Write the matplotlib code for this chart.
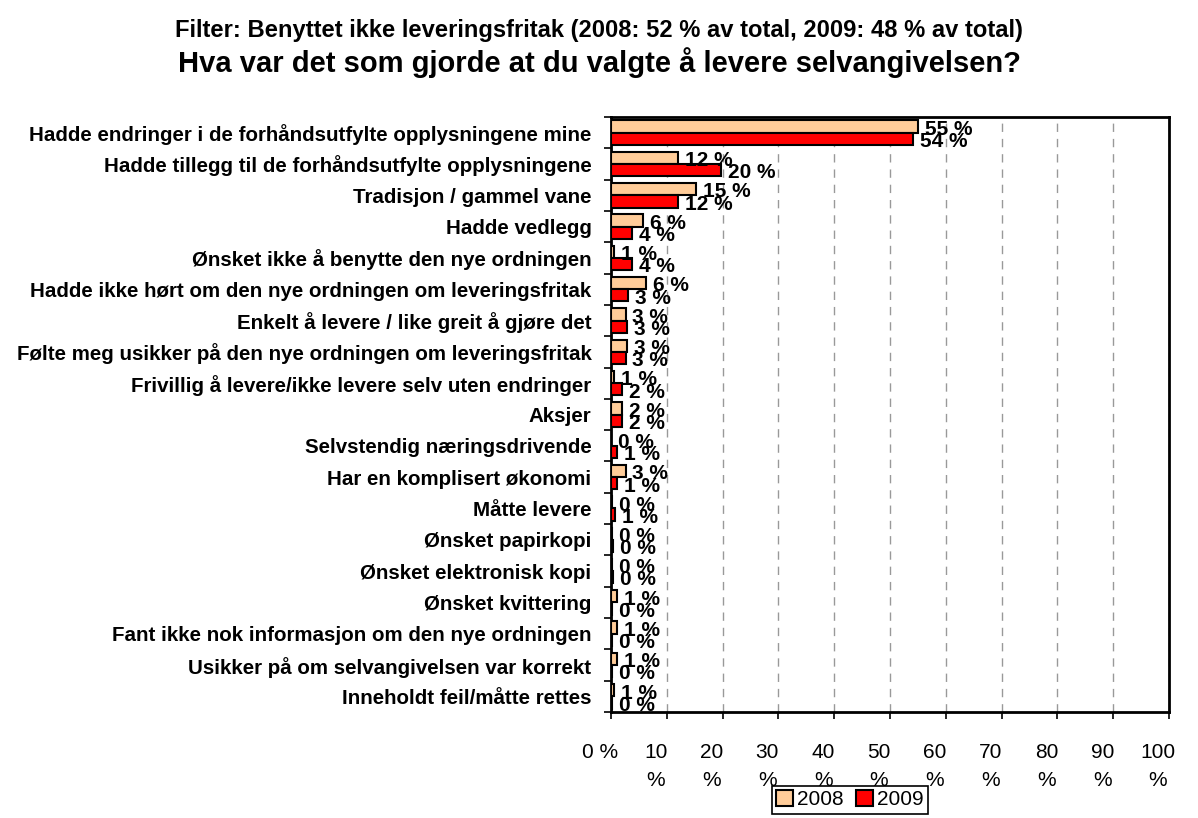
import matplotlib as mpl
import numpy as np
from matplotlib import pyplot as plt
from matplotlib import transforms

plt.rcParams["font.family"] = ["Liberation Sans", "DejaVu Sans"]

categories = [
    "Hadde endringer i de forhåndsutfylte opplysningene mine",
    "Hadde tillegg til de forhåndsutfylte opplysningene",
    "Tradisjon / gammel vane",
    "Hadde vedlegg",
    "Ønsket ikke å benytte den nye ordningen",
    "Hadde ikke hørt om den nye ordningen om leveringsfritak",
    "Enkelt å levere / like greit å gjøre det",
    "Følte meg usikker på den nye ordningen om leveringsfritak",
    "Frivillig å levere/ikke levere selv uten endringer",
    "Aksjer",
    "Selvstendig næringsdrivende",
    "Har en komplisert økonomi",
    "Måtte levere",
    "Ønsket papirkopi",
    "Ønsket elektronisk kopi",
    "Ønsket kvittering",
    "Fant ikke nok informasjon om den nye ordningen",
    "Usikker på om selvangivelsen var korrekt",
    "Inneholdt feil/måtte rettes",
]
values_2008 = [55.0, 12.0, 15.2, 5.8, 0.6, 6.2, 2.6, 2.9, 0.6, 2.0,
               0.0, 2.6, 0.2, 0.1, 0.1, 1.0, 1.1, 1.0, 0.6]
values_2009 = [54.1, 19.8, 12.0, 3.7, 3.7, 3.1, 2.9, 2.6, 2.0, 2.0,
               1.1, 1.0, 0.8, 0.3, 0.3, 0.2, 0.2, 0.1, 0.1]
series_names = ["2008", "2009"]
x_ticks = [0, 10, 20, 30, 40, 50, 60, 70, 80, 90, 100]
x_tick_labels = ["0 %"] + [f"{t}\n%" for t in x_ticks[1:]]

title_1 = "Filter: Benyttet ikke leveringsfritak (2008: 52 % av total, 2009: 48 % av total)"
title_2 = "Hva var det som gjorde at du valgte å levere selvangivelsen?"

colour_2008 = "#FFCC99"
colour_2009 = "#FF0000"

fig = plt.figure(figsize=(11.98, 8.18), dpi=100)
ax = fig.add_axes([611 / 1198, 1 - 712 / 818, (1169 - 611) / 1198, (712 - 117) / 818])

y = np.arange(len(categories))
h = 0.39
ax.barh(y - h / 2, values_2008, height=h, color=colour_2008, edgecolor="black", linewidth=1.5, label=series_names[0], zorder=3)
ax.barh(y + h / 2, values_2009, height=h, color=colour_2009, edgecolor="black", linewidth=1.5, label=series_names[1], zorder=3)

offset = transforms.offset_copy(ax.transData, fig=fig, x=5, y=-2, units="points")
for yi, v in zip(y - h / 2, values_2008):
    ax.text(v, yi, f"{v:.0f} %", transform=offset, ha="left", va="center",
            fontsize=15, fontweight="bold", zorder=5)
for yi, v in zip(y + h / 2, values_2009):
    ax.text(v, yi, f"{v:.0f} %", transform=offset, ha="left", va="center",
            fontsize=15, fontweight="bold", zorder=5)

ax.set_xlim(0, 100)
ax.set_ylim(len(categories) - 0.5, -0.5)

ax.set_yticks(y)
ax.set_yticklabels(categories, fontsize=14.8, fontweight="bold")
ax.tick_params(axis="y", length=0, pad=14)
ax.set_yticks(np.arange(len(categories) + 1) - 0.5, minor=True)
ax.tick_params(axis="y", which="minor", length=5, width=1.2, direction="out")

ax.set_xticks(x_ticks)
ax.set_xticklabels(x_tick_labels, fontsize=15, va="top", linespacing=1.62)
ax.tick_params(axis="x", length=5, width=1.2, direction="out", pad=17)
shift = transforms.ScaledTranslation(-11 / 100, 0, fig.dpi_scale_trans)
for lbl in ax.get_xticklabels():
    lbl.set_transform(lbl.get_transform() + shift)

ax.grid(axis="x", color="#999999", linestyle=(0, (6, 5)), linewidth=1, zorder=0)
for side in ["left", "bottom", "top", "right"]:
    ax.spines[side].set_color("black")
    ax.spines[side].set_linewidth(2)

fig.text(0.5, 1 - 30 / 818, title_1, ha="center", va="center", fontsize=17.1, fontweight="bold")
fig.text(0.5, 1 - 63 / 818, title_2, ha="center", va="center", fontsize=21, fontweight="bold")

leg = fig.legend(loc="upper center", bbox_to_anchor=(850 / 1198, 1 - 786 / 818), ncol=2,
                 fontsize=15, frameon=True, fancybox=False, edgecolor="black", framealpha=1,
                 handlelength=0.8, handleheight=0.8, handletextpad=0.2, columnspacing=0.6,
                 borderpad=0.2, borderaxespad=0)
leg.get_frame().set_linewidth(1.2)

fig.savefig("out.png", dpi=100)
